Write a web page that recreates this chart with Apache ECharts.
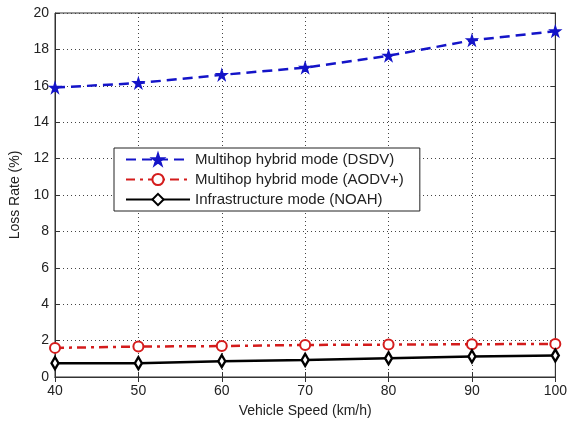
<!DOCTYPE html>
<html>
<head>
<meta charset="utf-8">
<script src="https://cdn.jsdelivr.net/npm/echarts@6/dist/echarts.min.js"></script>
<style>
html,body{margin:0;padding:0;background:#fff;}
#chart{width:570px;height:423px;}
</style>
</head>
<body>
<div id="chart"></div>
<script>
var speeds = [40, 50, 60, 70, 80, 90, 100];
var dsdv = [15.9, 16.15, 16.6, 17.0, 17.65, 18.5, 19.0];
var aodv = [1.6, 1.67, 1.7, 1.76, 1.78, 1.8, 1.82];
var noah = [0.76, 0.76, 0.87, 0.94, 1.03, 1.13, 1.18];
var seriesNames = ['Multihop hybrid mode (DSDV)', 'Multihop hybrid mode (AODV+)', 'Infrastructure mode (NOAH)'];
var xTitle = 'Vehicle Speed (km/h)';
var yTitle = 'Loss Rate (%)';

function pairs(ys){ return speeds.map(function(x,i){ return [x, ys[i]]; }); }

var font = 'Liberation Sans, Arial, sans-serif';
var starPath = 'path://M50,0 L61,35 L97,35 L68,57 L79,92 L50,70 L21,92 L32,57 L3,35 L39,35 Z';

var chart = echarts.init(document.getElementById('chart'), null, {renderer:'canvas'});
chart.setOption({
  animation: false,
  backgroundColor: '#fff',
  grid: {left: 55, right: 12, top: 13, bottom: 43, show: true, borderColor: '#333', borderWidth: 1, backgroundColor: 'transparent'},
  legend: {
    data: seriesNames,
    orient: 'vertical',
    left: 114, top: 148,
    backgroundColor: '#fff',
    borderColor: '#222', borderWidth: 1,
    padding: [4, 16, 4, 11],
    itemWidth: 64, itemHeight: 14, itemGap: 5,
    textStyle: {fontFamily: font, fontSize: 15, color: '#222'}
  },
  xAxis: [{
    type: 'value', min: 40, max: 100, interval: 10,
    name: xTitle, nameLocation: 'middle', nameGap: 27,
    nameTextStyle: {fontFamily: font, fontSize: 14, color: '#222'},
    axisLine: {show: true, lineStyle: {color: '#333'}},
    axisTick: {show: true, inside: true, length: 5, lineStyle: {color: '#333'}},
    axisLabel: {fontFamily: font, fontSize: 14, color: '#222', margin: 7},
    splitLine: {show: true, lineStyle: {type: [1, 3], color: '#444'}}
  }, {
    type: 'value', min: 40, max: 100, interval: 10, position: 'top',
    axisLine: {show: true, lineStyle: {color: '#333'}},
    axisTick: {show: true, inside: true, length: 5, lineStyle: {color: '#333'}},
    axisLabel: {show: false}, splitLine: {show: false}
  }],
  yAxis: [{
    type: 'value', min: 0, max: 20, interval: 2,
    name: yTitle, nameLocation: 'middle', nameGap: 32, nameRotate: 90,
    nameTextStyle: {fontFamily: font, fontSize: 14, color: '#222'},
    axisLine: {show: true, lineStyle: {color: '#333'}},
    axisTick: {show: true, inside: true, length: 5, lineStyle: {color: '#333'}},
    axisLabel: {fontFamily: font, fontSize: 14, color: '#222', margin: 6},
    splitLine: {show: true, lineStyle: {type: [1, 3], color: '#444'}}
  }, {
    type: 'value', min: 0, max: 20, interval: 2, position: 'right',
    axisLine: {show: true, lineStyle: {color: '#333'}},
    axisTick: {show: true, inside: true, length: 5, lineStyle: {color: '#333'}},
    axisLabel: {show: false}, splitLine: {show: false}
  }],
  series: [{
    name: seriesNames[0], type: 'line', data: pairs(dsdv),
    symbol: starPath, symbolSize: 10,
    lineStyle: {color: '#1414c8', width: 2.5, type: [10, 6]},
    itemStyle: {color: '#1414c8', borderColor: '#1414c8', borderWidth: 1.5}
  }, {
    name: seriesNames[1], type: 'line', data: pairs(aodv),
    symbol: 'circle', symbolSize: 10,
    lineStyle: {color: '#d41c1c', width: 2.5, type: [9, 5, 3, 5]},
    itemStyle: {color: '#fff', borderColor: '#d41c1c', borderWidth: 2}
  }, {
    name: seriesNames[2], type: 'line', data: pairs(noah),
    symbol: 'diamond', symbolSize: [7, 12],
    lineStyle: {color: '#000', width: 2.5, type: 'solid'},
    itemStyle: {color: '#fff', borderColor: '#000', borderWidth: 2.5}
  }]
});
</script>
</body>
</html>
